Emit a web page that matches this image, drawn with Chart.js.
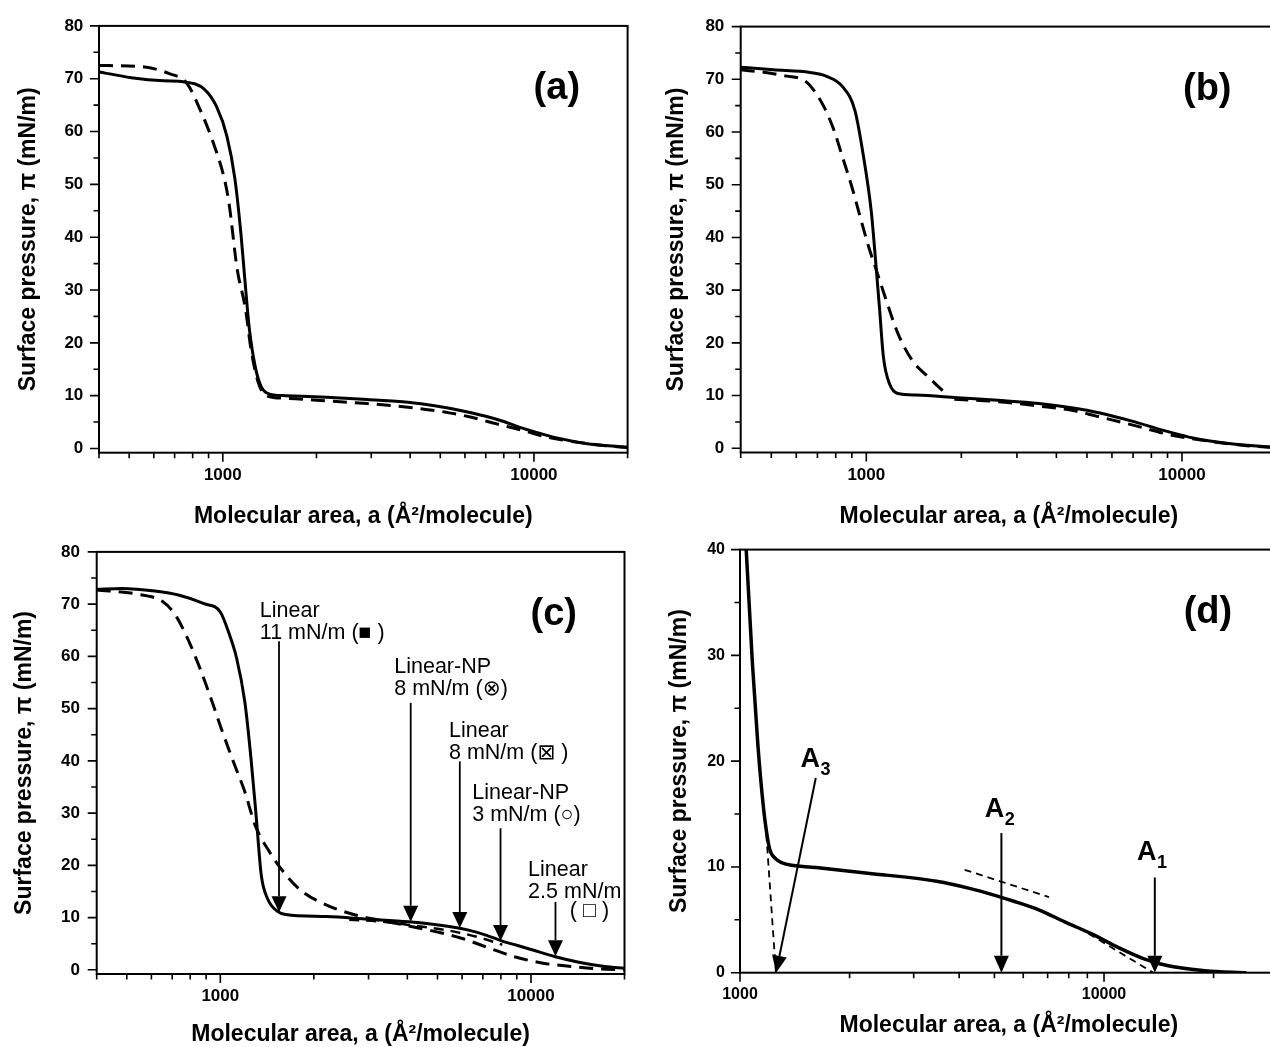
<!DOCTYPE html>
<html>
<head>
<meta charset="utf-8">
<script src="https://cdn.jsdelivr.net/npm/chart.js@4.4.1/dist/chart.umd.min.js"></script>
<style>
html, body { margin: 0; padding: 0; overflow: hidden; background: #fff; width: 1270px; height: 1047px; }
canvas { position: absolute; }
</style>
</head>
<body>
<canvas id="pa"></canvas>
<canvas id="pb"></canvas>
<canvas id="pc"></canvas>
<canvas id="pd"></canvas>
<script>
// ---- data ----
const aSolidX = [400, 508, 646, 752, 873, 955, 1031, 1094, 1145, 1181, 1216, 1273, 1331, 1413, 1595, 2155, 2910, 3935, 4800, 5800, 7000, 8000, 9000, 10000, 11450, 13000, 14650, 17000, 20000];
const aSolidY = [71.3, 70.2, 69.6, 69.4, 68.0, 64.7, 59.1, 51.0, 40.3, 31.0, 22.8, 15.3, 11.6, 10.3, 10.0, 9.7, 9.26, 8.76, 8.1, 7.2, 6.1, 5.1, 4.0, 3.2, 2.2, 1.5, 0.95, 0.55, 0.25];
const aDashX = [400, 545, 670, 767, 846, 933, 1007, 1046, 1111, 1181, 1235, 1300, 1380, 1595, 2155, 2910, 3935, 5210, 6300, 7540, 9180, 11170, 13590, 17000, 20000];
const aDashY = [72.5, 72.3, 71.0, 69.1, 64.1, 57.8, 51.5, 46.6, 34.1, 26.6, 18.4, 12.5, 10.0, 9.5, 9.0, 8.5, 7.8, 6.87, 5.9, 4.7, 3.43, 2.06, 1.24, 0.5, 0.2];

const bSolidX = [400, 507, 663, 746, 841, 920, 977, 1037, 1067, 1100, 1133, 1185, 1259, 1439, 1940, 2614, 3523, 4470, 5505, 6995, 8610, 10930, 13880, 20000];
const bSolidY = [72.3, 71.8, 71.3, 70.6, 68.6, 64.1, 55.8, 44.9, 36.5, 26.9, 17.3, 12.2, 10.4, 10.1, 9.6, 9.1, 8.5, 7.7, 6.7, 5.1, 3.5, 1.9, 0.96, 0.1];
const bDashX = [400, 480, 560, 620, 664, 731, 787, 837, 906, 960, 1020, 1080, 1150, 1259, 1397, 1574, 1747];
const bDashY = [71.8, 71.3, 70.6, 70.1, 68.8, 65.0, 60.6, 55.6, 49.0, 43.5, 38.0, 33.5, 28.5, 21.8, 16.7, 13.5, 10.9];
const bDash2X = [1900, 2614, 3523, 4470, 5350, 6995, 9100, 12300, 16000, 20000];
const bDash2Y = [9.3, 8.85, 8.0, 7.2, 6.1, 4.4, 2.6, 1.3, 0.5, 0.1];

const cSolidX = [400, 483, 615, 738, 886, 1000, 1062, 1129, 1199, 1255, 1306, 1354, 1417, 1528, 1624, 2199, 2979, 4030, 5455, 6300, 7200, 8085, 9000, 10000, 11990, 14380, 17250, 20000];
const cSolidY = [72.8, 73.0, 72.5, 71.7, 70.1, 68.5, 64.7, 59.6, 51.3, 40.5, 29.0, 18.2, 13.7, 11.2, 10.6, 10.2, 9.7, 9.2, 8.3, 7.6, 6.6, 5.5, 4.7, 3.9, 2.5, 1.4, 0.64, 0.3];
const cDashX = [400, 529, 655, 717, 785, 860, 941, 1015, 1112, 1199, 1294, 1439, 1624, 1834, 2199, 2719, 3460, 4690, 5975, 7385, 8850, 10940, 13540, 16250, 20000];
const cDashY = [72.7, 72.0, 70.4, 67.9, 63.4, 57.7, 51.3, 45.6, 39.2, 34.1, 27.7, 22.6, 18.2, 15.0, 12.4, 10.5, 9.2, 7.6, 6.05, 4.1, 2.5, 1.27, 0.64, 0.2, 0];
const cDash2X = [2600, 3200, 4030, 5455, 6955, 8085];
const cDash2Y = [9.6, 9.3, 8.6, 7.5, 6.05, 4.8];

const dSolidX = [1030, 1040, 1081, 1120, 1142, 1170, 1206, 1250, 1300, 1618, 2244, 3467, 4300, 4909, 5600, 6670, 7800, 9250, 11000, 12820, 15000, 18960, 24600];
const dSolidY = [43, 40, 29.4, 21.5, 18, 14.5, 11.7, 10.8, 10.4, 9.95, 9.41, 8.64, 7.95, 7.4, 6.8, 5.9, 4.8, 3.67, 2.35, 1.34, 0.65, 0.19, 0];
const dTan1X = [1175, 1255], dTan1Y = [14.2, 0];
const dTan2X = [4140, 7060], dTan2Y = [9.73, 7.15];
const dTan3X = [8500, 13650], dTan3Y = [4.28, 0];

// annotations (c)
const cArrowX = [1545, 4100, 5900, 7980, 11990];
const cArrowTop = [62.9, 51.1, 39.9, 27.1, 13.0];
const cArrowTip = [11.0, 9.2, 8.0, 5.5, 2.6];
const cNoteX = [1340, 3630, 5446, 6470, 9790, 13340];
const cNoteY = [67.6, 56.9, 44.6, 32.7, 18.0, 10.2];
const cNoteText = [['Linear', '11 mN/m (\u25A0 )'], ['Linear-NP', '8 mN/m (\u2297)'], ['Linear', '8 mN/m (\u22A0 )'],
                   ['Linear-NP', '3 mN/m (\u25CB)'], ['Linear', '2.5 mN/m'], ['( \u25A1 )']];
// annotations (d)
const dArrowFromX = [1615, 5225, 13790], dArrowFromY = [18.4, 13.2, 9.0];
const dArrowToX = [1256, 5225, 13790], dArrowToY = [0, 0, 0];
const dLabelX = [1467, 4700, 12320], dLabelY = [19.4, 14.75, 10.63], dLabelSub = ['3', '2', '1'];

// ticks
const xMajor = [1000, 10000];
const xTicksWide = [400, 500, 600, 700, 800, 900, 1000, 2000, 3000, 4000, 5000, 6000, 7000, 8000, 9000, 10000, 20000];
const xTicksD = [1000, 2000, 3000, 4000, 5000, 6000, 7000, 8000, 9000, 10000, 20000, 30000];
const yTicks80 = [0, 5, 10, 15, 20, 25, 30, 35, 40, 45, 50, 55, 60, 65, 70, 75, 80];
const yTicks40 = [0, 5, 10, 15, 20, 25, 30, 35, 40];

const xTitle = 'Molecular area, a (\u00C5\u00B2/molecule)';
const yTitle = 'Surface pressure, \u03C0 (mN/m)';
const FONT = "'Liberation Sans', Arial, 'DejaVu Sans', sans-serif";

function pts(xs, ys) { return xs.map((x, i) => ({x: x, y: ys[i]})); }

const frameTicks = {
  id: 'frameTicks',
  afterDatasetsDraw(chart, args, o) {
    const {ctx, chartArea: {left, top, right, bottom}, scales: {x, y}} = chart;
    ctx.save();
    ctx.strokeStyle = '#000';
    ctx.fillStyle = '#000';
    ctx.lineWidth = 1.6;
    ctx.beginPath();
    x.ticks.forEach(t => {
      const px = x.getPixelForValue(t.value);
      const len = xMajor.includes(t.value) ? 9 : 5.5;
      ctx.moveTo(px, bottom); ctx.lineTo(px, bottom + len);
    });
    y.ticks.forEach(t => {
      const py = y.getPixelForValue(t.value);
      const len = t.value % 10 === 0 ? 9 : 5.5;
      ctx.moveTo(left - len, py); ctx.lineTo(left, py);
    });
    ctx.stroke();
    ctx.lineWidth = 2;
    ctx.strokeRect(left, top, right - left, bottom - top);

    // arrows
    (o.arrows || []).forEach(a => {
      const x1 = x.getPixelForValue(a[0]), y1 = y.getPixelForValue(a[1]);
      const x2 = x.getPixelForValue(a[2]), y2 = y.getPixelForValue(a[3]);
      const len = Math.hypot(x2 - x1, y2 - y1);
      const ux = (x2 - x1) / len, uy = (y2 - y1) / len;
      const hl = o.headLen, hw = o.headW / 2;
      const bx = x2 - ux * hl, by = y2 - uy * hl;
      ctx.lineWidth = o.shaft;
      ctx.beginPath(); ctx.moveTo(x1, y1); ctx.lineTo(bx, by); ctx.stroke();
      ctx.beginPath();
      ctx.moveTo(x2, y2);
      ctx.lineTo(bx - uy * hw, by + ux * hw);
      ctx.lineTo(bx + uy * hw, by - ux * hw);
      ctx.closePath(); ctx.fill();
    });

    // plain notes
    ctx.textBaseline = 'alphabetic';
    ctx.textAlign = 'left';
    (o.notes || []).forEach(n => {
      ctx.font = '21.5px ' + FONT;
      const px = x.getPixelForValue(n.x), py = y.getPixelForValue(n.y);
      n.lines.forEach((s, i) => ctx.fillText(s, px, py + i * 22));
    });

    // A labels with subscripts
    (o.subLabels || []).forEach(n => {
      const px = x.getPixelForValue(n.x), py = y.getPixelForValue(n.y);
      ctx.font = 'bold 27px ' + FONT;
      ctx.fillText('A', px, py);
      const w = ctx.measureText('A').width;
      ctx.font = 'bold 18px ' + FONT;
      ctx.fillText(n.sub, px + w + 0.5, py + 8);
    });

    // panel letter
    ctx.font = 'bold 38px ' + FONT;
    ctx.fillText(o.label, right - 94, top + 73);
    ctx.restore();
  }
};

function makeChart(id, p) {
  const cv = document.getElementById(id);
  const box = p.box, plot = p.plot;
  cv.width = box.w; cv.height = box.h;
  cv.style.left = box.left + 'px'; cv.style.top = box.top + 'px';
  cv.style.width = box.w + 'px'; cv.style.height = box.h + 'px';
  const tickFont = {family: FONT, weight: 'bold', size: p.tickSize};
  const titleFont = {family: FONT, weight: 'bold', size: 23};
  return new Chart(cv, {
    type: 'line',
    data: {datasets: p.datasets},
    options: {
      responsive: false,
      animation: false,
      devicePixelRatio: 1,
      layout: {padding: {left: 0, top: plot.T - box.top, right: box.left + box.w - plot.R, bottom: 0}},
      elements: {
        point: {radius: 0, hoverRadius: 0},
        line: {borderColor: '#000', borderWidth: 3, cubicInterpolationMode: 'monotone', fill: false}
      },
      plugins: {legend: {display: false}, tooltip: {enabled: false}, frameTicks: p.marks},
      scales: {
        x: {
          type: 'logarithmic', min: p.xMin, max: p.xMax,
          afterBuildTicks: s => { s.ticks = p.xTicks.map(v => ({value: v})); },
          afterFit: s => { s.height = box.top + box.h - plot.B; },
          grid: {display: false, drawTicks: false},
          border: {display: false},
          ticks: {autoSkip: false, maxRotation: 0, padding: p.xPad, color: '#000', font: tickFont,
                  callback: v => xMajor.includes(v) ? String(v) : ''},
          title: {display: true, text: xTitle, color: '#000', font: titleFont,
                  padding: {top: 0, bottom: box.top + box.h - p.xTitleMid - 13.8}}
        },
        y: {
          type: 'linear', min: p.yMin, max: p.yMax,
          afterBuildTicks: s => { s.ticks = p.yTicks.map(v => ({value: v})); },
          afterFit: s => { s.width = plot.L - box.left; },
          grid: {display: false, drawTicks: false},
          border: {display: false},
          ticks: {autoSkip: false, padding: p.yPad, color: '#000', font: tickFont,
                  callback: v => v % 10 === 0 ? String(v) : ''},
          title: {display: true, text: yTitle, color: '#000', font: titleFont,
                  padding: {top: p.yTitleMid - box.left - 13.8, bottom: 0}}
        }
      }
    },
    plugins: [frameTicks]
  });
}

const dash = [14, 8];

makeChart('pa', {
  box: {left: 0, top: 0, w: 640, h: 540},
  plot: {L: 99, T: 22, R: 629, B: 452.7},
  xMin: 400, xMax: 20000, yMin: -0.8, yMax: 80,
  xTicks: xTicksWide, yTicks: yTicks80, tickSize: 17,
  xPad: 12.4, yPad: 15.7, xTitleMid: 516.5, yTitleMid: 29,
  datasets: [
    {data: pts(aSolidX, aSolidY)},
    {data: pts(aDashX, aDashY), borderDash: dash}
  ],
  marks: {label: '(a)'}
});

makeChart('pb', {
  box: {left: 640, top: 0, w: 650, h: 540},
  plot: {L: 740.7, T: 24, R: 1277, B: 452.5},
  xMin: 400, xMax: 20000, yMin: -0.8, yMax: 80,
  xTicks: xTicksWide, yTicks: yTicks80, tickSize: 17,
  xPad: 12.4, yPad: 16.4, xTitleMid: 516.5, yTitleMid: 677,
  datasets: [
    {data: pts(bSolidX, bSolidY)},
    {data: pts(bDashX, bDashY), borderDash: dash},
    {data: pts(bDash2X, bDash2Y), borderDash: dash}
  ],
  marks: {label: '(b)'}
});

makeChart('pc', {
  box: {left: 0, top: 525, w: 640, h: 535},
  plot: {L: 96.7, T: 543, R: 624.5, B: 974},
  xMin: 400, xMax: 20000, yMin: -0.8, yMax: 80,
  xTicks: xTicksWide, yTicks: yTicks80, tickSize: 17,
  xPad: 12.1, yPad: 16.7, xTitleMid: 1035, yTitleMid: 24.5,
  datasets: [
    {data: pts(cSolidX, cSolidY)},
    {data: pts(cDashX, cDashY), borderDash: dash},
    {data: pts(cDash2X, cDash2Y), borderDash: [10, 7], borderWidth: 2.5}
  ],
  marks: {
    label: '(c)', shaft: 1.8, headLen: 16, headW: 15,
    arrows: cArrowX.map((v, i) => [v, cArrowTop[i], v, cArrowTip[i]]),
    notes: cNoteText.map((t, i) => ({x: cNoteX[i], y: cNoteY[i], lines: t}))
  }
});

makeChart('pd', {
  box: {left: 640, top: 525, w: 650, h: 535},
  plot: {L: 740, T: 543, R: 1277.7, B: 972.7},
  xMin: 1000, xMax: 30000, yMin: 0, yMax: 40,
  xTicks: xTicksD, yTicks: yTicks40, tickSize: 16,
  xPad: 11.9, yPad: 15, xTitleMid: 1025.3, yTitleMid: 680,
  datasets: [
    {data: pts(dSolidX, dSolidY), borderWidth: 3.5},
    {data: pts(dTan1X, dTan1Y), borderDash: [7, 5], borderWidth: 1.8},
    {data: pts(dTan2X, dTan2Y), borderDash: [7, 5], borderWidth: 1.8},
    {data: pts(dTan3X, dTan3Y), borderDash: [7, 5], borderWidth: 1.8}
  ],
  marks: {
    label: '(d)', shaft: 2, headLen: 17, headW: 15,
    arrows: dArrowFromX.map((v, i) => [v, dArrowFromY[i], dArrowToX[i], dArrowToY[i]]),
    subLabels: dLabelX.map((v, i) => ({x: v, y: dLabelY[i], sub: dLabelSub[i]}))
  }
});
</script>
</body>
</html>
